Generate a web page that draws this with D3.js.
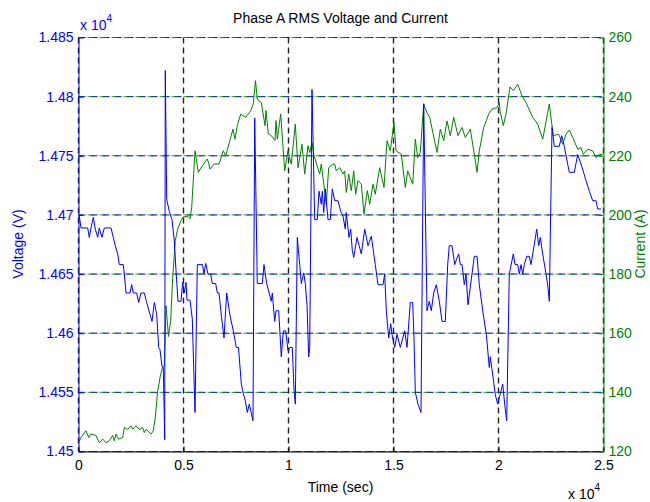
<!DOCTYPE html>
<html>
<head>
<meta charset="utf-8">
<script src="https://cdn.jsdelivr.net/npm/d3@7/dist/d3.min.js"></script>
<style>
  body { margin: 0; background: #fff; }
  svg { display: block; }
  text { font-family: "Liberation Sans", Arial, Helvetica, sans-serif; }
</style>
</head>
<body>
<svg id="chart" width="650" height="502"></svg>
<script>
// Phase A RMS voltage (V) sampled over time (s)
const timeV = [38,119,438,514,595,705,800,914,990,1119,
  1229,1548,1657,1752,1867,1943,2133,2181,2262,2452,
  2533,2610,2771,2867,2976,3133,3248,3371,3500,3610,
  3724,3819,3881,3976,4038,4105,4133,4200,4324,4452,
  4562,4643,4738,4881,4962,5038,5119,5167,5310,5419,
  5548,5657,5905,5976,6057,6167,6295,6371,6533,6610,
  6691,6800,6929,7057,7214,7372,7514,7619,7753,7848,
  7943,8038,8133,8310,8391,8514,8753,8834,8962,9181,
  9229,9343,9405,9534,9657,9753,9867,9976,10072,10181,
  10262,10324,10419,10534,10610,10724,10800,10881,10962,11010,
  11119,11248,11372,11453,11562,11610,11676,11753,11881,11991,
  12086,12200,12357,12486,12595,12705,12752,12881,12962,13038,
  13105,13262,13467,13629,13786,13943,14133,14262,14500,14581,
  14657,14772,14867,14929,15058,15167,15324,15534,15643,15800,
  15915,15976,16038,16167,16310,16438,16595,16705,16800,16915,
  17038,17181,17310,17467,17581,17657,17786,17915,18010,18105,
  18181,18262,18372,18453,18548,18738,18848,18977,19086,19248,
  19420,19562,19610,19738,19848,19962,20072,20200,20295,20391,
  20514,20705,20786,20914,20991,21072,21152,21229,21343,21467,
  21548,21705,21819,21914,21991,22105,22262,22343,22419,22548,
  22657,22895,23010,23133,23295,23372,23610,23772,23929,24086,
  24167,24324,24486,24643,24724,24881];
const voltage = [14699,14689,14689,14681,14689,14698,14688,14681,14689,14681,
  14689,14689,14681,14674,14667,14658,14658,14650,14634,14634,
  14641,14634,14634,14626,14634,14634,14626,14618,14610,14626,
  14616,14588,14586,14572,14571,14510,14822,14713,14703,14696,
  14678,14653,14627,14627,14643,14634,14643,14628,14628,14612,
  14533,14658,14658,14650,14659,14650,14650,14642,14642,14634,
  14634,14615,14596,14634,14615,14602,14588,14588,14557,14549,
  14543,14533,14540,14526,14782,14642,14642,14658,14642,14627,
  14634,14610,14619,14619,14580,14602,14602,14585,14588,14588,
  14552,14540,14681,14658,14642,14651,14642,14624,14580,14588,
  14806,14696,14696,14720,14709,14720,14702,14722,14696,14696,
  14722,14712,14712,14703,14699,14688,14702,14681,14688,14670,
  14664,14681,14667,14688,14674,14682,14658,14641,14641,14650,
  14619,14596,14608,14599,14588,14599,14588,14602,14588,14626,
  14626,14596,14550,14540,14533,14794,14619,14627,14619,14634,
  14641,14627,14610,14610,14658,14674,14674,14658,14663,14667,
  14658,14658,14641,14650,14624,14650,14665,14665,14641,14619,
  14599,14571,14580,14563,14548,14540,14548,14557,14540,14526,
  14650,14667,14658,14658,14650,14658,14650,14658,14665,14665,
  14658,14675,14688,14674,14681,14667,14650,14641,14627,14774,
  14758,14758,14767,14758,14743,14736,14736,14751,14743,14734,
  14729,14720,14712,14712,14705,14705];

// Phase A RMS current (A) sampled over time (s)
const timeI = [38,119,357,486,595,833,990,1152,1310,1467,
  1629,1705,1786,1914,2105,2181,2343,2500,2581,2738,
  2895,3057,3133,3214,3452,3562,3657,3762,3881,4000,
  4086,4167,4286,4391,4486,4610,4724,4881,4991,5229,
  5310,5391,5548,5705,5895,6133,6191,6262,6453,6691,
  6895,7010,7248,7357,7452,7562,7724,7962,8200,8324,
  8429,8514,8705,8881,8929,9038,9181,9357,9405,9467,
  9629,9819,9976,10133,10324,10453,10643,10772,10929,11010,
  11119,11214,11486,11562,11800,11914,12119,12200,12276,12438,
  12595,12676,12752,12867,12991,13105,13200,13310,13467,13595,
  13753,13867,14024,14133,14343,14548,14691,14848,15024,15119,
  15372,15562,15676,15915,16038,16153,16276,16438,16595,16724,
  17072,17229,17391,17548,17705,17867,18072,18262,18419,18657,
  18848,18977,19086,19295,19534,19691,19929,20038,20072,20229,
  20357,20548,20705,20914,21119,21343,21629,21867,22105,22343,
  22419,22610,22867,23057,23214,23372,23533,23772,23929,24038,
  24248,24486,24643,24800,24976];
const current = [123.6,124.7,127.0,124.7,125.9,125.4,123.0,124.2,123.0,123.6,
  125.4,123.6,125.9,124.2,124.7,128.1,127.5,128.7,127.5,128.7,
  127.5,128.1,126.4,127.5,125.9,127.0,131.5,140.0,145.0,148.6,
  149.0,169.3,158.9,164.3,178.8,191.4,195.2,198.1,199.4,199.4,
  198.7,202.6,221.7,214.4,216.6,218.9,217.7,215.5,217.2,217.2,
  221.7,220.0,226.2,229.0,225.6,230.2,234.1,233.0,235.2,237.6,
  245.4,239.1,238.0,230.2,235.3,227.4,226.8,225.2,231.9,225.6,
  234.1,214.9,221.7,217.2,230.7,216.0,223.9,213.8,223.4,221.1,
  224.5,220.1,213.8,217.2,203.6,216.0,217.2,217.2,214.9,216.0,
  213.8,214.9,207.6,213.8,208.2,214.9,207.0,211.6,210.4,200.3,
  208.2,203.6,210.4,207.0,216.0,209.3,225.1,221.7,231.3,221.7,
  220.5,209.3,214.9,210.4,225.6,219.4,221.1,237.5,234.6,233.0,
  221.1,229.0,225.1,231.8,226.8,233.0,226.8,229.6,226.2,229.0,
  220.5,214.4,221.7,229.6,234.1,235.8,236.3,238.0,235.2,230.2,
  234.1,243.3,242.1,244.2,240.3,237.5,233.0,230.7,225.6,234.6,
  237.5,226.8,227.3,223.9,227.3,228.7,226.2,222.2,222.8,220.5,
  222.2,221.7,219.4,220.5,220.5];

// Axis ticks and their printed labels (both exponent axes are x 10^4)
const timeTicks = [0, 5000, 10000, 15000, 20000, 25000];
const timeTickLabels = ["0", "0.5", "1", "1.5", "2", "2.5"];
const voltTicks = [14500, 14550, 14600, 14650, 14700, 14750, 14800, 14850];
const voltTickLabels = ["1.45", "1.455", "1.46", "1.465", "1.47", "1.475", "1.48", "1.485"];
const currTicks = [120, 140, 160, 180, 200, 220, 240, 260];

const BLUE = "#0000ff", GREEN = "#008000";
const L = 78.5, R = 603.5, T = 37.5, B = 451.5;

const svg = d3.select("#chart");
svg.append("rect").attr("width", 650).attr("height", 502).attr("fill", "#fff");

const x = d3.scaleLinear().domain([0, 25000]).range([L, R]);
const yV = d3.scaleLinear().domain([14500, 14850]).range([B, T]);
const yI = d3.scaleLinear().domain([120, 260]).range([B, T]);

// Horizontal grid: the voltage and current axes each draw a dashed grid on the same rows
const grid = svg.append("g");
grid.selectAll("line.gv").data(voltTicks).join("line")
  .attr("x1", L).attr("x2", R)
  .attr("y1", d => yV(d)).attr("y2", d => yV(d))
  .attr("stroke", BLUE).attr("stroke-width", 1)
  .attr("stroke-dasharray", "7,5");
grid.selectAll("line.gi").data(currTicks).join("line")
  .attr("x1", L).attr("x2", R)
  .attr("y1", d => yI(d)).attr("y2", d => yI(d))
  .attr("stroke", GREEN).attr("stroke-width", 1)
  .attr("stroke-dasharray", "7,5").attr("stroke-dashoffset", 3).attr("opacity", 0.8);

// Vertical grid at the time ticks
grid.selectAll("line.gt").data(timeTicks).join("line")
  .attr("x1", d => x(d)).attr("x2", d => x(d))
  .attr("y1", T).attr("y2", B)
  .attr("stroke", "#222").attr("stroke-width", 1.4)
  .attr("stroke-dasharray", "6,4");

// Series
const lineV = d3.line().x(d => x(d[0])).y(d => yV(d[1]));
const lineI = d3.line().x(d => x(d[0])).y(d => yI(d[1]));
svg.append("path").datum(d3.zip(timeI, current))
  .attr("d", lineI).attr("fill", "none").attr("stroke", GREEN).attr("stroke-width", 1);
svg.append("path").datum(d3.zip(timeV, voltage))
  .attr("d", lineV).attr("fill", "none").attr("stroke", BLUE).attr("stroke-width", 1);

// Axes
const fontSize = "14px";
const xAxis = svg.append("g").attr("transform", `translate(0,${B})`)
  .call(d3.axisBottom(x).tickValues(timeTicks)
    .tickFormat((d, i) => timeTickLabels[i]).tickSize(-5).tickSizeOuter(0).tickPadding(9));
xAxis.select(".domain").attr("stroke", "#000");
xAxis.selectAll(".tick line").attr("stroke", "#000");
xAxis.selectAll("text").attr("fill", "#000").style("font-size", fontSize)
  .style("font-family", "Liberation Sans, Arial, sans-serif");

const vAxis = svg.append("g").attr("transform", `translate(${L},0)`)
  .call(d3.axisLeft(yV).tickValues(voltTicks)
    .tickFormat((d, i) => voltTickLabels[i]).tickSize(-5).tickSizeOuter(0).tickPadding(5));
vAxis.select(".domain").attr("stroke", BLUE);
vAxis.selectAll(".tick line").attr("stroke", BLUE);
vAxis.selectAll("text").attr("fill", BLUE).style("font-size", fontSize)
  .style("font-family", "Liberation Sans, Arial, sans-serif");

const iAxis = svg.append("g").attr("transform", `translate(${R},0)`)
  .call(d3.axisRight(yI).tickValues(currTicks).tickSize(-5).tickSizeOuter(0).tickPadding(5));
iAxis.select(".domain").attr("stroke", GREEN);
iAxis.selectAll(".tick line").attr("stroke", GREEN);
iAxis.selectAll("text").attr("fill", GREEN).style("font-size", fontSize)
  .style("font-family", "Liberation Sans, Arial, sans-serif");

// Exponent markers
function exponent(xp, yp, color) {
  const t = svg.append("text").attr("x", xp).attr("y", yp).attr("fill", color)
    .style("font-size", fontSize);
  t.append("tspan").text("x 10");
  t.append("tspan").attr("dy", -8).style("font-size", "10px").text("4");
}
exponent(80, 30, BLUE);
exponent(568, 499, "#000");

// Titles and axis labels
svg.append("text").attr("x", 340.5).attr("y", 23).attr("text-anchor", "middle")
  .attr("fill", "#000").style("font-size", "14px").text("Phase A RMS Voltage and Current");
svg.append("text").attr("x", 340.5).attr("y", 492).attr("text-anchor", "middle")
  .attr("fill", "#000").style("font-size", "14px").text("Time (sec)");
svg.append("text").attr("transform", "translate(23,244) rotate(-90)").attr("text-anchor", "middle")
  .attr("fill", BLUE).style("font-size", "14px").text("Voltage (V)");
svg.append("text").attr("transform", "translate(645,244) rotate(-90)").attr("text-anchor", "middle")
  .attr("fill", GREEN).style("font-size", "14px").text("Current (A)");
</script>
</body>
</html>
